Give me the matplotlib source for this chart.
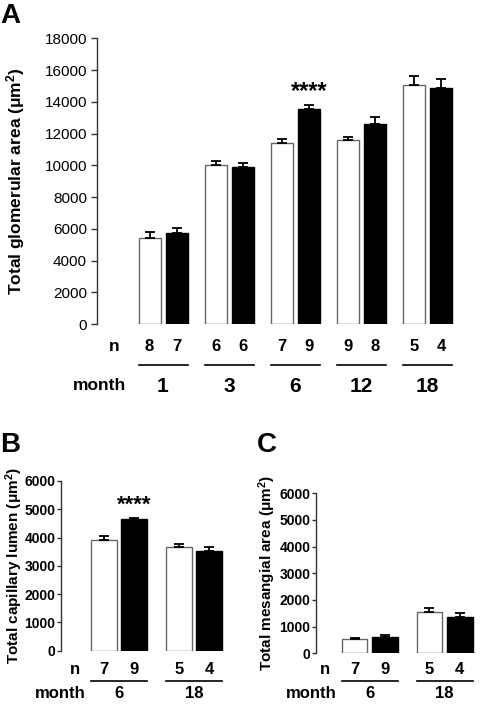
import numpy as np
import matplotlib
matplotlib.use('Agg')
import matplotlib.pyplot as plt

plt.rcParams['font.family'] = ['Liberation Sans', 'DejaVu Sans']
plt.rcParams['mathtext.fontset'] = 'custom'
plt.rcParams['mathtext.bf'] = 'Liberation Sans:bold'
plt.rcParams['mathtext.rm'] = 'Liberation Sans:bold'
plt.rcParams['mathtext.default'] = 'bf'

# ---------------- data ----------------
months_a = ['1', '3', '6', '12', '18']
n_white_a = [8, 6, 7, 9, 5]
n_black_a = [7, 6, 9, 8, 4]
glom_white = [5400, 10000, 11400, 11580, 15080]
glom_white_err = [370, 290, 240, 190, 520]
glom_black = [5720, 9880, 13570, 12590, 14870]
glom_black_err = [330, 290, 250, 480, 590]

months_bc = ['6', '18']
n_white_bc = [7, 5]
n_black_bc = [9, 4]
cap_white = [3910, 3660]
cap_white_err = [160, 130]
cap_black = [4650, 3530]
cap_black_err = [40, 140]
mes_white = [525, 1550]
mes_white_err = [40, 150]
mes_black = [620, 1375]
mes_black_err = [55, 125]

W, H = 480, 708
fig = plt.figure(figsize=(W / 100, H / 100), dpi=100)


def rect(left, top, right, bottom):
    # pixel box -> figure fraction
    return [left / W, 1 - bottom / H, (right - left) / W, (bottom - top) / H]


def panel(ax, white, werr, black, berr, nw, nb, months, ymax, step,
          bw, off, xlim, tick_fs, tick_bold, tick_len, tick_pad,
          ylabel, ylab_fs, ylab_x, n_y, line_y, m_y, n_x, month_x,
          n_fs, m_fs, mon_fs, stars=None, star_fs=14):
    x = np.arange(len(white))
    ax.bar(x - off, white, bw, color='white', edgecolor='#666666', linewidth=1.0, zorder=2)
    ax.bar(x + off, black, bw, color='black', edgecolor='black', linewidth=1.0, zorder=2)
    ax.errorbar(x - off, white, yerr=[np.zeros(len(white)), werr], fmt='none',
                ecolor='black', elinewidth=1.3, capsize=3.5, capthick=1.3, zorder=3)
    ax.errorbar(x + off, black, yerr=[np.zeros(len(black)), berr], fmt='none',
                ecolor='black', elinewidth=1.3, capsize=3.5, capthick=1.3, zorder=3)
    ax.set_xlim(*xlim)
    ax.set_ylim(0, ymax)
    ax.set_yticks(np.arange(0, ymax + 1, step))
    ax.set_xticks([])
    for s in ['top', 'right', 'bottom']:
        ax.spines[s].set_visible(False)
    ax.spines['left'].set_color('#333333')
    ax.spines['left'].set_linewidth(1.0)
    ax.tick_params(axis='y', length=tick_len, width=1.0, pad=tick_pad,
                   labelsize=tick_fs, color='#333333')
    for lab in ax.get_yticklabels():
        lab.set_fontweight('bold' if tick_bold else 'normal')
    ax.set_ylabel(ylabel, fontsize=ylab_fs, fontweight='bold')
    ax.yaxis.set_label_coords(ylab_x, 0.5)

    tr = ax.get_xaxis_transform()
    ax.text(n_x, n_y, 'n', transform=tr, ha='center', va='center',
            fontsize=m_fs, fontweight='bold')
    ax.text(month_x, m_y, 'month', transform=tr, ha='center', va='center',
            fontsize=m_fs, fontweight='bold')
    for i in range(len(white)):
        ax.text(x[i] - off, n_y, str(nw[i]), transform=tr, ha='center', va='center',
                fontsize=n_fs, fontweight='bold')
        ax.text(x[i] + off, n_y, str(nb[i]), transform=tr, ha='center', va='center',
                fontsize=n_fs, fontweight='bold')
        ax.plot([x[i] - off - bw / 2, x[i] + off + bw / 2], [line_y, line_y],
                transform=tr, color='black', linewidth=1.2, clip_on=False)
        ax.text(x[i], m_y, months[i], transform=tr, ha='center', va='center',
                fontsize=mon_fs, fontweight='bold')
    if stars is not None:
        ax.text(stars[0], stars[1], '****', ha='center', va='center',
                fontsize=star_fs, fontweight='bold')


unit = '(\u03bcm$^{2}$)'

# ---------------- panel A ----------------
axA = fig.add_axes(rect(96.7, 38.3, 455, 324))
sA = 66.1
panel(axA, glom_white, glom_white_err, glom_black, glom_black_err,
      n_white_a, n_black_a, months_a, 18000, 2000,
      bw=22 / sA, off=13.5 / sA, xlim=(-66.3 / sA, (455 - 163) / sA),
      tick_fs=11, tick_bold=False, tick_len=4, tick_pad=3,
      ylabel='Total glomerular area ' + unit, ylab_fs=12.5, ylab_x=-0.195,
      n_y=-22.7 / 285.7, line_y=-41 / 285.7, m_y=-62 / 285.7,
      n_x=(114 - 163) / sA, month_x=(100 - 163) / sA,
      n_fs=12, m_fs=12.5, mon_fs=15,
      stars=(2 + 13.5 / sA, 14650), star_fs=17)

# ---------------- panel B ----------------
axB = fig.add_axes(rect(61, 481, 228, 650.7))
sB = 75.0
hB = 169.7
panel(axB, cap_white, cap_white_err, cap_black, cap_black_err,
      n_white_bc, n_black_bc, months_bc, 6000, 1000,
      bw=25.5 / sB, off=15.2 / sB, xlim=((61 - 119) / sB, (228 - 119) / sB),
      tick_fs=10, tick_bold=True, tick_len=3, tick_pad=1,
      ylabel='Total capillary lumen ' + unit, ylab_fs=11, ylab_x=-0.215,
      n_y=-18.6 / hB, line_y=-30.3 / hB, m_y=-42.6 / hB,
      n_x=(75 - 119) / sB, month_x=(60.5 - 119) / sB,
      n_fs=12, m_fs=12, mon_fs=12,
      stars=(15.2 / sB, 5150), star_fs=16)

# ---------------- panel C ----------------
axC = fig.add_axes(rect(316, 493.3, 475, 653.3))
sC = 74.8
hC = 160.0
panel(axC, mes_white, mes_white_err, mes_black, mes_black_err,
      n_white_bc, n_black_bc, months_bc, 6000, 1000,
      bw=25.5 / sC, off=15.2 / sC, xlim=((316 - 369.8) / sC, (475 - 369.8) / sC),
      tick_fs=10, tick_bold=True, tick_len=3, tick_pad=1,
      ylabel='Total mesangial area ' + unit, ylab_fs=11, ylab_x=-0.239,
      n_y=-16 / hC, line_y=-27.7 / hC, m_y=-40 / hC,
      n_x=(325 - 369.8) / sC, month_x=(311 - 369.8) / sC,
      n_fs=12, m_fs=12, mon_fs=12)

# panel letters
fig.text(0 / W, 1 - 16 / H, 'A', fontsize=20, fontweight='bold', va='center', ha='left')
fig.text(0 / W, 1 - 445 / H, 'B', fontsize=20, fontweight='bold', va='center', ha='left')
fig.text(257 / W, 1 - 445 / H, 'C', fontsize=20, fontweight='bold', va='center', ha='left')

fig.savefig('out.png', dpi=100)
